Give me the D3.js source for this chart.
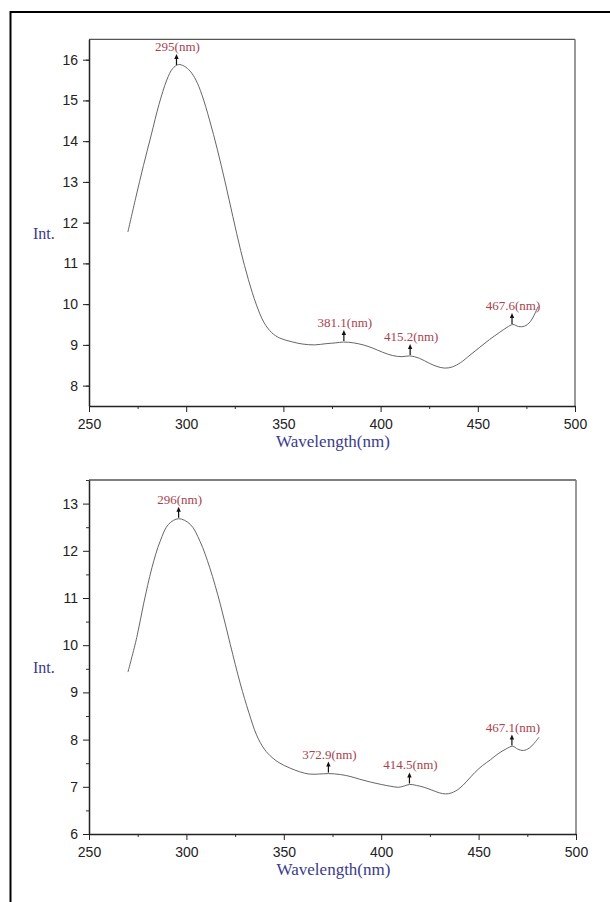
<!DOCTYPE html>
<html><head><meta charset="utf-8">
<script src="https://cdn.jsdelivr.net/npm/d3@7/dist/d3.min.js"></script>
<style>body{margin:0;background:#fff}svg{display:block}</style>
</head><body>
<svg id="chart" width="610" height="902"></svg>
<script>
// ---- Data ----
const wavelengthTop = [270,274,278,282,286,290,293,296,299,302,305,308,312,316,320,324,328,332,336,340,344,348,354,360,366,372,377,381,386,391,396,401,406,411,415,420,425,429,433,437,441,446,451,456,461,465,468,471,474,477,481];
const intensityTop  = [11.77,12.6,13.4,14.15,14.9,15.5,15.78,15.88,15.84,15.72,15.5,15.15,14.52,13.8,13.0,12.15,11.32,10.6,10.0,9.55,9.3,9.17,9.08,9.02,9.0,9.03,9.05,9.07,9.05,9.0,8.92,8.82,8.74,8.71,8.73,8.67,8.55,8.47,8.43,8.46,8.56,8.75,8.94,9.13,9.3,9.43,9.5,9.45,9.46,9.57,9.94];
const peakPosTop    = [295,381.1,415.2,467.6];
const peakLabelsTop = ["295(nm)","381.1(nm)","415.2(nm)","467.6(nm)"];

const wavelengthBottom = [270,274.5,278,282.3,286.5,290.8,296,302,307,312,317.4,322.5,327.7,332,336,340,344,348,353,358,363,368,373,379,384,389,394.5,400,405,409,412,414.6,418,422,426,430,433,436,440,444,448,452,456,460,464,467.5,470,473,476,478.5,481];
const intensityBottom  = [9.43,10.16,10.87,11.64,12.2,12.56,12.68,12.56,12.2,11.64,10.87,10.02,9.18,8.58,8.1,7.8,7.62,7.5,7.4,7.32,7.27,7.27,7.28,7.26,7.22,7.16,7.1,7.05,7.01,6.99,7.02,7.05,7.03,6.99,6.93,6.87,6.85,6.87,6.96,7.12,7.3,7.45,7.57,7.7,7.8,7.86,7.8,7.77,7.82,7.92,8.05];
const peakPosBottom    = [296,372.9,414.5,467.1];
const peakLabelsBottom = ["296(nm)","372.9(nm)","414.5(nm)","467.1(nm)"];

const xTicks = [250,300,350,400,450,500];
const xMinorTicks = [275,325,375,425,475];
const yTicksTop = [8,9,10,11,12,13,14,15,16];
const yTicksBottom = [6,7,8,9,10,11,12,13];

const xTitle = "Wavelength(nm)";
const yTitle = "Int.";

// ---- Drawing ----
const svg = d3.select("#chart");
svg.append("rect").attr("x",10.5).attr("y",12).attr("width",720).attr("height",1000)
  .attr("fill","none").attr("stroke","#000").attr("stroke-width",2);

function drawPanel(cfg){
  const g = svg.append("g");
  const x = d3.scaleLinear().domain([250,500]).range([cfg.left, cfg.right]);
  const y = d3.scaleLinear().domain(cfg.yDomain).range([cfg.bottom, cfg.top]);

  // frame top/right
  g.append("line").attr("x1",cfg.left).attr("x2",cfg.right).attr("y1",cfg.top).attr("y2",cfg.top)
    .attr("stroke","#555").attr("stroke-width",1.3);
  g.append("line").attr("x1",cfg.right).attr("x2",cfg.right).attr("y1",cfg.top).attr("y2",cfg.bottom)
    .attr("stroke","#777").attr("stroke-width",1.5);

  // minor ticks
  const yMinor = d3.range(cfg.yDomain[0]+0.5, cfg.yDomain[1]+0.01, 1);
  g.append("g").attr("transform",`translate(${cfg.left},0)`)
    .call(d3.axisLeft(y).tickValues(yMinor).tickSize(3).tickFormat(""))
    .call(a=>a.select(".domain").remove())
    .call(a=>a.selectAll("line").attr("stroke","#333"));
  g.append("g").attr("transform",`translate(0,${cfg.bottom})`)
    .call(d3.axisBottom(x).tickValues(xMinorTicks).tickSize(3).tickFormat(""))
    .call(a=>a.select(".domain").remove())
    .call(a=>a.selectAll("line").attr("stroke","#333"));

  // major axes
  const ya = g.append("g").attr("transform",`translate(${cfg.left},0)`)
    .call(d3.axisLeft(y).tickValues(cfg.yTicks).tickSize(6).tickPadding(5).tickSizeOuter(0));
  ya.select(".domain").attr("stroke","#222").attr("stroke-width",1.5);
  ya.selectAll("line").attr("stroke","#222");
  ya.selectAll("text").attr("font-family","Liberation Sans, Arial, sans-serif").attr("font-size",14).attr("fill","#222");

  const xa = g.append("g").attr("transform",`translate(0,${cfg.bottom})`)
    .call(d3.axisBottom(x).tickValues(xTicks).tickSize(6).tickPadding(7).tickSizeOuter(0));
  xa.select(".domain").attr("stroke","#222").attr("stroke-width",1.5);
  xa.selectAll("line").attr("stroke","#222");
  xa.selectAll("text").attr("font-family","Liberation Sans, Arial, sans-serif").attr("font-size",14).attr("fill","#222");

  // curve
  const pts = cfg.w.map((d,i)=>[d,cfg.v[i]]);
  g.append("path").datum(pts)
    .attr("d", d3.line().x(d=>x(d[0])).y(d=>y(d[1])).curve(d3.curveCatmullRom.alpha(0.5)))
    .attr("fill","none").attr("stroke","#666").attr("stroke-width",1);

  // peak markers
  const interp = wv => {
    const i = d3.bisectLeft(cfg.w, wv);
    if (i<=0) return cfg.v[0];
    const t = (wv-cfg.w[i-1])/(cfg.w[i]-cfg.w[i-1]);
    return cfg.v[i-1] + t*(cfg.v[i]-cfg.v[i-1]);
  };
  cfg.peaks.forEach((p,i)=>{
    const px = x(p), py = y(interp(p)) - 1;
    const tip = py - 11;
    g.append("line").attr("x1",px).attr("x2",px).attr("y1",py).attr("y2",tip+3)
      .attr("stroke","#111").attr("stroke-width",1.2);
    g.append("path").attr("d",`M${px-2.2},${tip+5}L${px},${tip}L${px+2.2},${tip+5}Z`).attr("fill","#111");
    g.append("text").attr("x",px+1).attr("y",tip-3).attr("text-anchor","middle")
      .attr("font-family","Liberation Serif, Times New Roman, serif").attr("font-size",13)
      .attr("fill","#a8434e").text(cfg.labels[i]);
  });

  // titles
  g.append("text").attr("x",(cfg.left+cfg.right)/2+1).attr("y",cfg.bottom+41)
    .attr("text-anchor","middle").attr("font-family","Liberation Serif, Times New Roman, serif")
    .attr("font-size",17).attr("fill","#3b3b8c").text(xTitle);
  g.append("text").attr("x",33).attr("y",(cfg.top+cfg.bottom)/2+16)
    .attr("font-family","Liberation Serif, Times New Roman, serif")
    .attr("font-size",16).attr("fill","#3b3b8c").text(yTitle);
}

drawPanel({left:89, right:575, top:39.3, bottom:406, yDomain:[7.5,16.5], yTicks:yTicksTop,
  w:wavelengthTop, v:intensityTop, peaks:peakPosTop, labels:peakLabelsTop});
drawPanel({left:89, right:576, top:480, bottom:834, yDomain:[6,13.5], yTicks:yTicksBottom,
  w:wavelengthBottom, v:intensityBottom, peaks:peakPosBottom, labels:peakLabelsBottom});
</script>
</body></html>
